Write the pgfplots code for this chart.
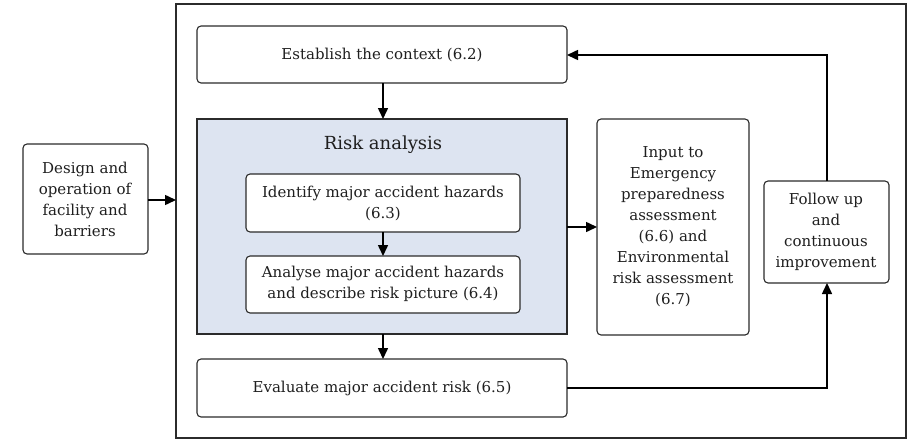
\documentclass[border=0pt]{standalone}
\usepackage{pgfplots}
\pgfplotsset{compat=1.18}
\usepackage{fontspec}
\setmainfont{DejaVu Serif}
\usetikzlibrary{arrows.meta}
\definecolor{riskblue}{HTML}{DDE4F1}
\definecolor{edge}{HTML}{2B2B2B}
\begin{document}
\begin{tikzpicture}
\begin{axis}[
  scale only axis, width=912pt, height=439pt,
  xmin=0, xmax=912, ymin=0, ymax=439, y dir=reverse,
  axis lines=none, clip=false, ticks=none,
]
\tikzset{
  box/.style={draw=edge, line width=1.1pt, rounded corners=4pt, fill=white},
  arr/.style={draw=black, line width=1.5pt, -{Triangle[length=11pt,width=10pt]}},
  txt/.style={font=\fontsize{15}{21}\selectfont, align=center, inner sep=0pt, text=black!88},
}
% full-size invisible frame so the page equals the axis area
\path (rel axis cs:0,0) rectangle (rel axis cs:1,1);
% outer frame
\draw[edge, line width=1.1pt] (axis cs:176,4) rectangle (axis cs:906,438);
% boxes
\draw[box] (axis cs:197,26) rectangle (axis cs:567,83);
\draw[draw=edge, line width=1.5pt, fill=riskblue] (axis cs:197,119) rectangle (axis cs:567,334);
\draw[box] (axis cs:246,174) rectangle (axis cs:520,232);
\draw[box] (axis cs:246,256) rectangle (axis cs:520,313);
\draw[box] (axis cs:197,359) rectangle (axis cs:567,417);
\draw[box] (axis cs:23,144) rectangle (axis cs:148,254);
\draw[box] (axis cs:597,119) rectangle (axis cs:749,335);
\draw[box] (axis cs:764,181) rectangle (axis cs:889,283);
% arrows
\draw[arr] (axis cs:383,83) -- (axis cs:383,119);
\draw[arr] (axis cs:383,232) -- (axis cs:383,256);
\draw[arr] (axis cs:383,334) -- (axis cs:383,359);
\draw[arr] (axis cs:148,200) -- (axis cs:176,200);
\draw[arr] (axis cs:567,227) -- (axis cs:597,227);
\draw[arr] (axis cs:827,181) -- (axis cs:827,55) -- (axis cs:567,55);
\draw[arr] (axis cs:567,388) -- (axis cs:827,388) -- (axis cs:827,283);
% texts
\node[txt] at (axis cs:382,55) {Establish the context (6.2)};
\node[txt, font=\fontsize{18}{21}\selectfont] at (axis cs:383,145) {Risk analysis};
\node[txt] at (axis cs:383,203) {Identify major accident hazards\\(6.3)};
\node[txt] at (axis cs:383,284) {Analyse major accident hazards\\and describe risk picture (6.4)};
\node[txt] at (axis cs:382,388) {Evaluate major accident risk (6.5)};
\node[txt] at (axis cs:85,199) {Design and\\operation of\\facility and\\barriers};
\node[txt] at (axis cs:673,227) {Input to\\Emergency\\preparedness\\assessment\\(6.6) and\\Environmental\\risk assessment\\(6.7)};
\node[txt] at (axis cs:826,232) {Follow up\\and\\continuous\\improvement};
\end{axis}
\end{tikzpicture}
\end{document}
